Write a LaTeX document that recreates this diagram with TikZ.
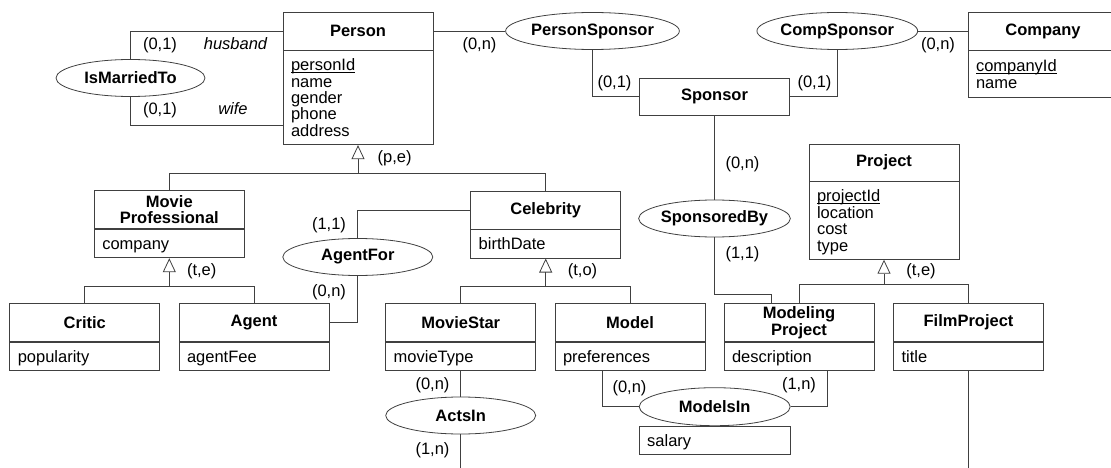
\documentclass[tikz,border=0pt]{standalone}
\usepackage{fontspec}
\setmainfont{Liberation Sans}
\usetikzlibrary{positioning,shapes.geometric,arrows.meta}

\newcommand{\keyattr}[1]{\underline{\smash{#1}}}

\tikzset{
  er/.style={draw=black!75, line width=0.8pt},
  enthead/.style={er, minimum width=150pt, minimum height=38pt, inner sep=0pt,
    align=center, font=\fontsize{16.5}{16.5}\selectfont\bfseries},
  attrbox/.style={er, text width=134pt, inner xsep=8pt, inner ysep=3.4pt, align=left,
    font=\fontsize{16.5}{16.4}\selectfont,
    execute at begin node={\vrule height 16.6pt depth 0pt width 0pt},
    execute at end node=\strut},
  rel/.style={er, ellipse, minimum width=150pt, minimum height=37pt, inner sep=0pt,
    font=\fontsize{16.5}{16.5}\selectfont\bfseries},
  card/.style={inner sep=0pt, anchor=base, font=\fontsize{16.5}{16.5}\selectfont},
  role/.style={card, font=\fontsize{16.5}{16.5}\selectfont\itshape},
  link/.style={draw=black!75, line width=0.8pt},
  isa/.style={link, -{Triangle[open, length=14pt, width=13pt]}},
}

\begin{document}
\begin{tikzpicture}[x=1pt, y=-1pt]
  \useasboundingbox (0,0) rectangle (1111,468);

  % entities
  \node[enthead] (person) at (358,31) {Person};
  \node[attrbox, below=0pt of person] (person-a) {\keyattr{personId}\\name\\gender\\phone\\address};
  \node[enthead] (company) at (1043,31) {Company};
  \node[attrbox, below=0pt of company, minimum height=47pt] (company-a) {\keyattr{companyId}\\name};
  \node[enthead, minimum height=37pt] (sponsor) at (714.5,96.5) {Sponsor};
  \node[enthead, minimum height=37pt] (project) at (884,162.5) {Project};
  \node[attrbox, below=0pt of project] (project-a) {\keyattr{projectId}\\location\\cost\\type};
  \node[enthead] (moviepro) at (169.3,209.7) {Movie\\Professional};
  \node[attrbox, below=0pt of moviepro] (moviepro-a) {company};
  \node[enthead] (celeb) at (545.7,210) {Celebrity};
  \node[attrbox, below=0pt of celeb] (celeb-a) {birthDate};
  \node[enthead] (critic) at (84.8,322.5) {Critic};
  \node[attrbox, below=0pt of critic] (critic-a) {popularity};
  \node[enthead] (agent) at (254,322.5) {Agent};
  \node[attrbox, below=0pt of agent] (agent-a) {agentFee};
  \node[enthead] (moviestar) at (460.7,322.5) {MovieStar};
  \node[attrbox, below=0pt of moviestar] (moviestar-a) {movieType};
  \node[enthead] (model) at (630,322.5) {Model};
  \node[attrbox, below=0pt of model] (model-a) {preferences};
  \node[enthead] (modproj) at (799,322.5) {Modeling\\Project};
  \node[attrbox, below=0pt of modproj] (modproj-a) {description};
  \node[enthead] (filmproj) at (968.5,322.5) {FilmProject};
  \node[attrbox, below=0pt of filmproj] (filmproj-a) {title};

  % relationships
  \node[rel, minimum width=149pt] (married) at (130.5,78) {IsMarriedTo};
  \node[rel] (personsp) at (592.5,31) {PersonSponsor};
  \node[rel] (compsp) at (837.3,31) {CompSponsor};
  \node[rel] (sponsoredby) at (714.5,218.5) {SponsoredBy};
  \node[rel] (agentfor) at (357.8,257) {AgentFor};
  \node[rel] (actsin) at (460.7,415.5) {ActsIn};
  \node[rel, minimum width=151pt, minimum height=38pt] (modelsin) at (714.7,406.7) {ModelsIn};
  \node[attrbox, below=0pt of modelsin, text width=135pt] (modelsin-a) {salary};

  \coordinate (actsin-end) at (460.7,475);
  \coordinate (filmproj-end) at (968.5,475);

  % connectors
  \draw[link] (person.west) -| (married.north);
  \draw[link] (married.south) |- (person-a.west |- 0,125);
  \draw[link] (person.east) -- (personsp.west);
  \draw[link] (personsp.south) |- (sponsor.west);
  \draw[link] (compsp.east) -- (company.west);
  \draw[link] (compsp.south) |- (sponsor.east);
  \draw[link] (sponsor.south) -- (sponsoredby.north);
  \draw[link] (sponsoredby.south) -- ++(0,56.5) -| ([xshift=-28pt]modproj.north);
  \draw[link] (celeb.west) -| (agentfor.north);
  \draw[link] (agentfor.south) |- (agent.east);
  \draw[link] (moviestar-a.south) -- (actsin.north);
  \draw[link] (actsin.south) -- (actsin-end);
  \draw[link] ([xshift=-28pt]model-a.south) |- (modelsin.west);
  \draw[link] ([xshift=28pt]modproj-a.south) |- (modelsin.east);
  \draw[link] (filmproj-a.south) -- (filmproj-end);

  % generalisations
  \coordinate (person-isa) at ([yshift=-28pt]person-a.south);
  \draw[isa] (person-isa) -- (person-a.south);
  \draw[link] (moviepro.north) |- (person-isa) -| (celeb.north);
  \coordinate (moviepro-isa) at ([yshift=-28pt]moviepro-a.south);
  \draw[isa] (moviepro-isa) -- (moviepro-a.south);
  \draw[link] (critic.north) |- (moviepro-isa) -| (agent.north);
  \coordinate (celeb-isa) at ([yshift=-28pt]celeb-a.south);
  \draw[isa] (celeb-isa) -- (celeb-a.south);
  \draw[link] (moviestar.north) |- (celeb-isa) -| (model.north);
  \coordinate (project-isa) at (884,284.3);
  \draw[isa] (project-isa) -- (project-a.south);
  \draw[link] (modproj.north) |- (project-isa) -| (filmproj.north);

  % cardinalities and roles
  \node[card] (c-husband) at (160,50) {(0,1)};
  \node[role] (r-husband) at (235.5,50) {husband};
  \node[card] (c-wife) at (160,115) {(0,1)};
  \node[role] (r-wife) at (233,115) {wife};
  \node[card] (c-personsp) at (479.5,49.6) {(0,n)};
  \node[card] (c-sponsor1) at (614.5,88) {(0,1)};
  \node[card] (c-sponsor2) at (814.5,88) {(0,1)};
  \node[card] (c-company) at (938,49.6) {(0,n)};
  \node[card] (g-person) at (394.7,163) {(p,e)};
  \node[card] (g-moviepro) at (201.7,275) {(t,e)};
  \node[card] (g-celeb) at (582.5,275) {(t,o)};
  \node[card] (g-project) at (921,275) {(t,e)};
  \node[card] (c-celeb) at (329,229) {(1,1)};
  \node[card] (c-agent) at (329,296) {(0,n)};
  \node[card] (c-sponsor3) at (742.5,168) {(0,n)};
  \node[card] (c-modproj1) at (742.5,258) {(1,1)};
  \node[card] (c-moviestar) at (432.5,389) {(0,n)};
  \node[card] (c-actsin) at (432.5,454) {(1,n)};
  \node[card] (c-model) at (629.5,392) {(0,n)};
  \node[card] (c-modproj2) at (799,389) {(1,n)};
\end{tikzpicture}
\end{document}
